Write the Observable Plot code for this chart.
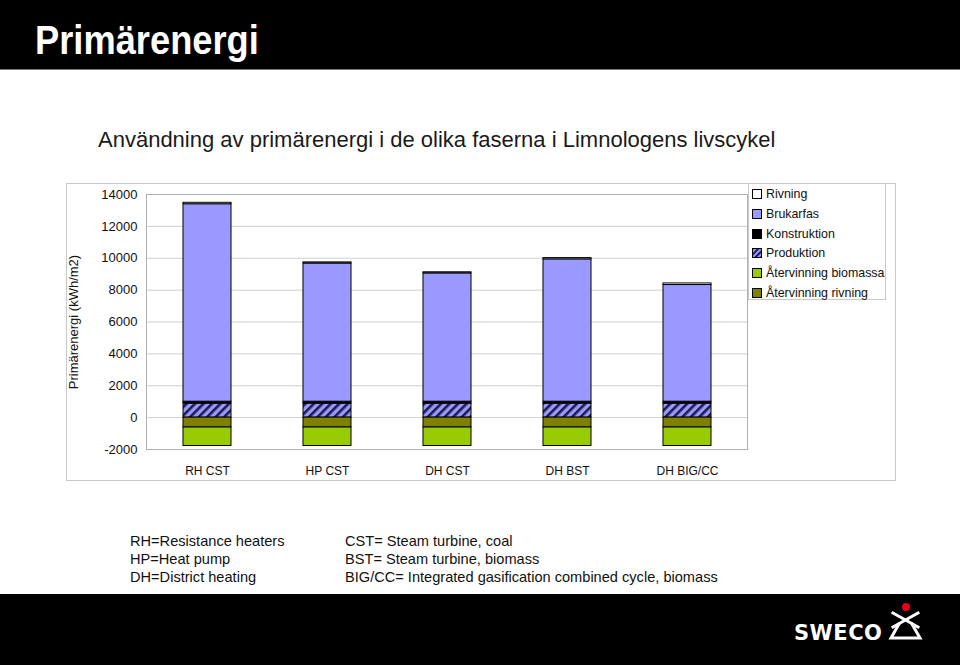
<!DOCTYPE html>
<html>
<head>
<meta charset="utf-8">
<script src="https://cdn.jsdelivr.net/npm/d3@7"></script>
<script src="https://cdn.jsdelivr.net/npm/@observablehq/plot@0.6"></script>
<style>
  html, body { margin: 0; padding: 0; background: #fff; }
  body { width: 960px; height: 665px; position: relative; overflow: hidden; font-family: "Liberation Sans", Arial, sans-serif; }
  .abs { position: absolute; }
  #header { left: 0; top: 0; width: 960px; height: 70px; background: #000; border-bottom: 1px solid #777; box-sizing: border-box; }
  #title { left: 35px; top: 17px; color: #fff; font-weight: bold; font-size: 41px; transform-origin: left top; transform: scaleX(0.885); white-space: nowrap; }
  #subtitle { left: 98px; top: 127px; font-size: 22px; color: #1a1a1a; white-space: nowrap; }
  #chartbox { left: 66px; top: 183px; width: 830px; height: 298px; border: 1px solid #c8c8c8; box-sizing: border-box; }
  #plot { left: 66px; top: 183px; }
  #legend { left: 748px; top: 183px; width: 138px; height: 117px; border: 1px solid #c8c8c8; background: #fff; box-sizing: border-box; font-size: 12.4px; }
  .li { position: absolute; left: 3px; height: 14px; line-height: 14px; white-space: nowrap; color: #111; }
  .sw { display: inline-block; width: 8px; height: 8px; border: 1px solid #000; vertical-align: -1px; margin-right: 4px; }
  .note { font-size: 14.6px; color: #111; white-space: nowrap; line-height: 18px; }
  #footer { left: 0; top: 594px; width: 960px; height: 71px; background: #000; }
</style>
</head>
<body>
<div id="header" class="abs"></div>
<div id="title" class="abs">Primärenergi</div>
<div id="subtitle" class="abs">Användning av primärenergi i de olika faserna i Limnologens livscykel</div>
<div id="chartbox" class="abs"></div>
<div id="plot" class="abs"></div>
<div id="legend" class="abs"></div>
<div class="abs note" style="left:130px; top:532px;">RH=Resistance heaters<br>HP=Heat pump<br>DH=District heating</div>
<div class="abs note" style="left:345px; top:532px;">CST= Steam turbine, coal<br>BST= Steam turbine, biomass<br>BIG/CC= Integrated gasification combined cycle, biomass</div>
<div id="footer" class="abs">
  <svg width="960" height="71" style="position:absolute;left:0;top:0">
    <text x="794" y="46" fill="#fff" font-family="DejaVu Sans, Liberation Sans, sans-serif" font-weight="bold" font-size="21" letter-spacing="0.5">SWECO</text>
    <circle cx="906" cy="13" r="4" fill="#e8001c"/>
    <g stroke="#fff" stroke-width="3" fill="none" stroke-linecap="square">
      <line x1="893" y1="19" x2="918" y2="33"/>
      <line x1="918" y1="19" x2="893" y2="33"/>
      <polyline points="899,30 891,44 920,44 912,30"/>
    </g>
  </svg>
</div>
<script>
// ---- data ----
const categories = ["RH CST", "HP CST", "DH CST", "DH BST", "DH BIG/CC"];
const seriesNames = ["Produktion", "Konstruktion", "Brukarfas", "Rivning", "Återvinning rivning", "Återvinning biomassa"];
const produktion = [880, 880, 880, 880, 880];
const konstruktion = [120, 120, 120, 120, 120];
const brukarfas = [12390, 8670, 8050, 8930, 7320];
const rivning = [90, 70, 70, 80, 100];
const atervinningRivning = [-620, -620, -620, -620, -620];
const atervinningBiomassa = [-1160, -1160, -1160, -1160, -1160];
const yTicks = [-2000, 0, 2000, 4000, 6000, 8000, 10000, 12000, 14000];
const legendOrder = ["Rivning", "Brukarfas", "Konstruktion", "Produktion", "Återvinning biomassa", "Återvinning rivning"];

const seriesValues = [produktion, konstruktion, brukarfas, rivning, atervinningRivning, atervinningBiomassa];
const colors = ["url(#hatch)", "#000000", "#9999ff", "#ffffff", "#808000", "#99cc00"];

const rows = [];
seriesNames.forEach((s, i) => {
  categories.forEach((c, j) => rows.push({cat: c, series: s, value: seriesValues[i][j]}));
});

const chart = Plot.plot({
  width: 830,
  height: 298,
  marginLeft: 80,
  marginRight: 149,
  marginTop: 11,
  marginBottom: 32,
  style: {fontFamily: "Liberation Sans, Arial, sans-serif", fontSize: "12px", color: "#111", background: "transparent"},
  x: {domain: categories, paddingInner: 0.6, paddingOuter: 0.3, label: null, tickSize: 0, tickPadding: 17},
  y: {domain: [-2000, 14000], ticks: yTicks, tickFormat: d => String(d), tickSize: 0, tickPadding: 9,
      label: "Primärenergi (kWh/m2)", labelAnchor: "center", labelArrow: "none", labelOffset: 78},
  color: {domain: seriesNames, range: colors},
  marks: [
    Plot.gridY(yTicks, {stroke: "#cfcfcf", strokeOpacity: 1}),
    Plot.frame({stroke: "#b0b0b0"}),
    Plot.barY(rows, {x: "cat", y: "value", fill: "series", stroke: "#000", strokeWidth: 1, order: null})
  ]
});

// larger font for y axis ticks and label
d3.select(chart).selectAll('g[aria-label="y-axis tick label"], g[aria-label="y-axis label"]').attr("font-size", "13px");

// hatch pattern defs
const defs = d3.select(chart).insert("defs", ":first-child");
const pat = defs.append("pattern").attr("id", "hatch").attr("patternUnits", "userSpaceOnUse")
  .attr("width", 6).attr("height", 6).attr("patternTransform", "rotate(45)");
pat.append("rect").attr("width", 6).attr("height", 6).attr("fill", "#9999ff");
pat.append("rect").attr("width", 2.6).attr("height", 6).attr("fill", "#1c1c4a");

document.getElementById("plot").appendChild(chart);

// legend
const leg = document.getElementById("legend");
legendOrder.forEach((s, i) => {
  const idx = seriesNames.indexOf(s);
  const div = document.createElement("div");
  div.className = "li";
  div.style.top = (3 + i * 19.8) + "px";
  let sw;
  if (s === "Produktion") {
    sw = '<svg width="10" height="10" style="vertical-align:-1px;margin-right:4px"><defs><pattern id="hatchL" patternUnits="userSpaceOnUse" width="4" height="4" patternTransform="rotate(45)"><rect width="4" height="4" fill="#9999ff"/><rect width="2" height="4" fill="#1c1c4a"/></pattern></defs><rect x="0.5" y="0.5" width="9" height="9" fill="url(#hatchL)" stroke="#000"/></svg>';
  } else {
    sw = '<span class="sw" style="background:' + colors[idx] + '"></span>';
  }
  div.innerHTML = sw + s;
  leg.appendChild(div);
});
</script>
</body>
</html>
